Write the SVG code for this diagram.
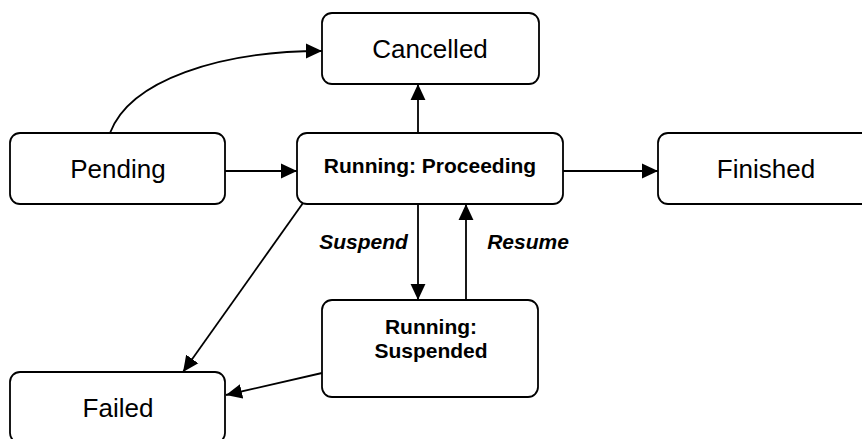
<svg xmlns="http://www.w3.org/2000/svg" width="862" height="439" viewBox="0 0 862 439">
<style>
.box{fill:#fff;stroke:#000;stroke-width:1.8}
.lbl{font-family:"Liberation Sans",Arial,sans-serif;font-size:26px;fill:#000;text-anchor:middle}
.blbl{font-family:"Liberation Sans",Arial,sans-serif;font-size:21px;font-weight:bold;fill:#000;text-anchor:middle}
.elbl{font-family:"Liberation Sans",Arial,sans-serif;font-size:21px;font-weight:bold;font-style:italic;fill:#000;text-anchor:middle}
.edge{fill:none;stroke:#000;stroke-width:1.8;marker-end:url(#arr)}
</style>
<defs>
<marker id="arr" markerUnits="userSpaceOnUse" markerWidth="16" markerHeight="16" viewBox="0 0 14 13" refX="14" refY="6.5" orient="auto">
<path d="M0,0 L14,6.5 L0,13 Z" fill="#000"/>
</marker>
</defs>
<rect width="862" height="439" fill="#fff"/>
<g id="connectors">
<path class="edge" d="M110,133 C130,80 220,51 322,51"/>
<path class="edge" d="M225,171 L297,171"/>
<path class="edge" d="M418,133 L418,84"/>
<path class="edge" d="M563,171 L658,171"/>
<path class="edge" d="M418,204 L418,300"/>
<path class="edge" d="M466,300 L466,204"/>
<path class="edge" d="M303,203 L183,372"/>
<path class="edge" d="M322,373 L226,395"/>
</g>
<g id="labels">
<text class="elbl" x="363.5" y="249">Suspend</text>
<text class="elbl" x="528" y="249">Resume</text>
</g>
<g id="cancelled">
<rect class="box" x="322" y="13" width="217" height="71" rx="10"/>
<text class="lbl" x="430" y="58">Cancelled</text>
</g>
<g id="pending">
<rect class="box" x="10" y="133" width="215" height="71" rx="10"/>
<text class="lbl" x="118" y="178">Pending</text>
</g>
<g id="proceeding">
<rect class="box" x="297" y="133" width="266" height="71" rx="10"/>
<text class="blbl" x="430" y="173">Running: Proceeding</text>
</g>
<g id="finished">
<rect class="box" x="658" y="133" width="216" height="71" rx="10"/>
<text class="lbl" x="766" y="178">Finished</text>
</g>
<g id="suspended">
<rect class="box" x="322" y="300" width="216" height="97" rx="10"/>
<text class="blbl" x="431" y="334">Running:</text>
<text class="blbl" x="431" y="358">Suspended</text>
</g>
<g id="failed">
<rect class="box" x="10" y="372" width="215" height="71" rx="10"/>
<text class="lbl" x="118" y="417">Failed</text>
</g>
</svg>
